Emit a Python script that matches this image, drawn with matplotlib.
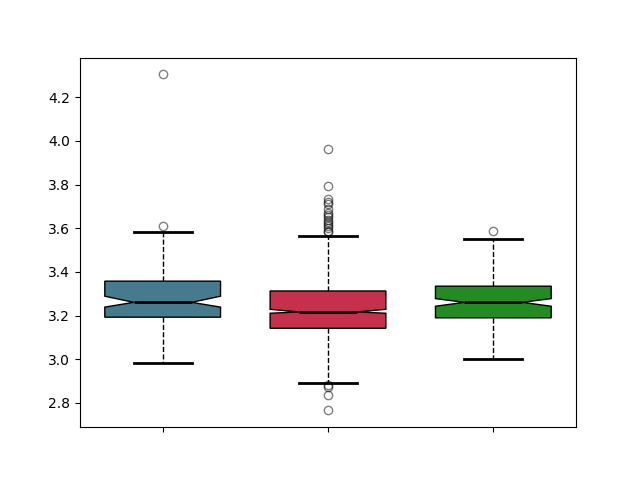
import matplotlib
matplotlib.use("Agg")
import matplotlib.pyplot as plt

labels = ["A", "B", "C"]
medians = [3.261, 3.217, 3.261]
q1 = [3.193, 3.142, 3.190]
q3 = [3.358, 3.313, 3.335]
whislo = [2.982, 2.893, 3.000]
whishi = [3.583, 3.567, 3.553]
cilo = [3.239, 3.211, 3.243]
cihi = [3.289, 3.229, 3.278]
fliers = [
    [3.610, 4.305],
    [3.963, 3.795, 3.735, 3.72, 3.71, 3.69, 3.67, 3.66, 3.65, 3.64, 3.63,
     3.62, 3.61, 3.60, 3.59, 3.585, 2.881, 2.875, 2.835, 2.766],
    [3.589],
]
colors = ["#457b8d", "#c5304a", "#228b22"]

stats = []
for i in range(len(labels)):
    stats.append(dict(med=medians[i], q1=q1[i], q3=q3[i], whislo=whislo[i],
                      whishi=whishi[i], cilo=cilo[i], cihi=cihi[i],
                      fliers=fliers[i], label=""))

fig, ax = plt.subplots(figsize=(6.4, 4.8), dpi=100)
bp = ax.bxp(stats, positions=[1, 2, 3], widths=0.7, shownotches=True,
            patch_artist=True,
            boxprops=dict(edgecolor="black", linewidth=1),
            whiskerprops=dict(linestyle="--", color="black", linewidth=1),
            capprops=dict(color="black", linewidth=2),
            medianprops=dict(color="black", linewidth=2),
            flierprops=dict(marker="o", markerfacecolor="none",
                            markeredgecolor="black", alpha=0.5, markersize=6))
for patch, c in zip(bp["boxes"], colors):
    patch.set_facecolor(c)
ax.set_xticks([1, 2, 3])
ax.set_xticklabels(["", "", ""])
ax.set_xlim(0.5, 3.5)
fig.savefig("out.png", dpi=100)
